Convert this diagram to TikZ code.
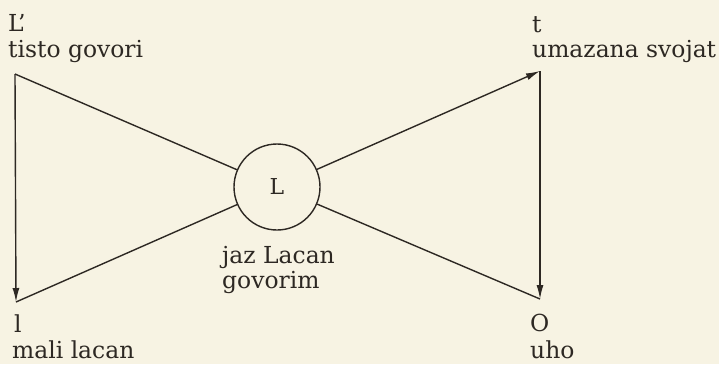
\documentclass[tikz,border=0pt]{standalone}
\usepackage{fontspec}
\setmainfont{DejaVu Serif}
\usetikzlibrary{arrows.meta}
\definecolor{paper}{RGB}{247,243,227}
\definecolor{ink}{RGB}{45,40,35}
\begin{document}
\begin{tikzpicture}[x=1bp,y=-1bp,
  lbl/.style={anchor=base west,inner sep=0pt,text=ink,font=\fontsize{23.5}{28}\selectfont},
  ln/.style={draw=ink,line width=1.4bp},
  arr/.style={ln,-{Latex[length=14bp,width=7bp]}},
  hub/.style={circle,draw=ink,line width=1.4bp,minimum size=86bp,inner sep=0pt,text=ink,font=\fontsize{22}{26}\selectfont}]
\fill[paper] (0,0) rectangle (719,364);
\useasboundingbox (0,0) rectangle (719,364);
\coordinate (tl) at (15,74);
\coordinate (tr) at (540,71);
\coordinate (bl) at (16,302);
\coordinate (br) at (540,299);
\node[hub] (c) at (277,187) {L};
\node[lbl] (Lp) at (8,31) {L’};
\node[lbl] (tg) at (8,57) {tisto govori};
\node[lbl] (t) at (532,32) {t};
\node[lbl] (us) at (532,57) {umazana svojat};
\node[lbl] (l) at (14,332) {l};
\node[lbl] (ml) at (12,358) {mali lacan};
\node[lbl] (O) at (530,331) {O};
\node[lbl] (uho) at (530,358) {uho};
\node[lbl] (jl) at (222,263) {jaz Lacan};
\node[lbl] (gv) at (222,288) {govorim};
\draw[arr] (tl) -- (bl);
\draw[ln] (tl) -- (c);
\draw[ln] (c) -- (bl);
\draw[arr] (c) -- (tr);
\draw[arr] (tr) -- (br);
\draw[ln] (c) -- (br);
\end{tikzpicture}
\end{document}
